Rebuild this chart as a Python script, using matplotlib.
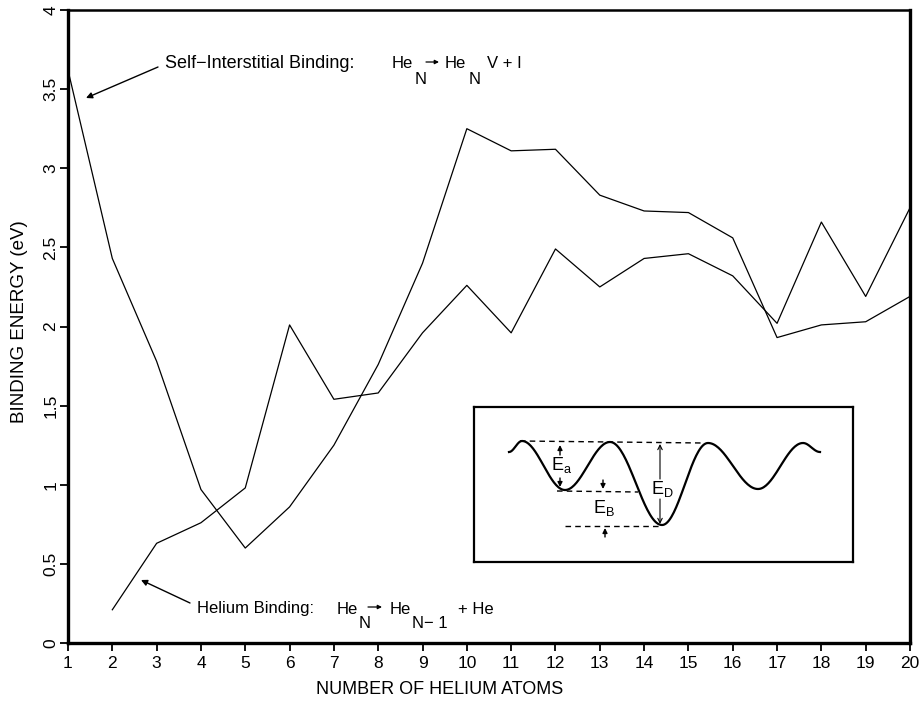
import numpy as np
import matplotlib
matplotlib.use("Agg")
import matplotlib.pyplot as plt

plt.rcParams['font.family'] = ['Liberation Sans', 'DejaVu Sans']
plt.rcParams['mathtext.default'] = 'regular'

# data
n_atoms = list(range(1, 21))
self_interstitial = [3.62, 2.43, 1.78, 0.97, 0.60, 0.86, 1.25, 1.76, 2.40, 3.25,
                     3.11, 3.12, 2.83, 2.73, 2.72, 2.56, 1.93, 2.01, 2.03, 2.19]
n_atoms_he = list(range(2, 21))
helium_binding = [0.21, 0.63, 0.76, 0.98, 2.01, 1.54, 1.58, 1.96, 2.26,
                  1.96, 2.49, 2.25, 2.43, 2.46, 2.32, 2.02, 2.66, 2.19, 2.75]
y_ticks = [0, 0.5, 1, 1.5, 2, 2.5, 3, 3.5, 4]
y_tick_labels = ['0', '0.5', '1', '1.5', '2', '2.5', '3', '3.5', '4']

# inset sketch: extrema of the potential curve (box-relative pixels)
well_x = [35, 48, 91, 136, 188, 234, 284, 329, 346]
well_y = [45, 34, 83, 35, 118, 36, 82, 36, 45]

W, H = 919, 704


def fpos(px, py):
    """pixel position -> figure fraction"""
    return px / W, 1 - py / H


def smooth(xs, ys, n=40):
    # half-cosine between successive extrema of the sketch
    out_x, out_y = [], []
    for x0, y0, x1, y1 in zip(xs[:-1], ys[:-1], xs[1:], ys[1:]):
        t = np.linspace(0, 1, n)
        out_x.extend(x0 + (x1 - x0) * t)
        out_y.extend(y0 + (y1 - y0) * (1 - np.cos(np.pi * t)) / 2)
    return out_x, out_y


def fig_arrow(start, end, scale=9, lw=1.0):
    fig.add_artist(plt.Annotation('', xy=fpos(*end), xytext=fpos(*start),
                                  xycoords='figure fraction', textcoords='figure fraction',
                                  arrowprops=dict(arrowstyle='-|>', color='black', lw=lw,
                                                  mutation_scale=scale, shrinkA=0, shrinkB=0)))


fig = plt.figure(figsize=(W / 100, H / 100), dpi=100)
ax = fig.add_axes([68 / W, 61 / H, 842 / W, 633 / H])

ax.plot(n_atoms, self_interstitial, color='black', lw=0.9)
ax.plot(n_atoms_he, helium_binding, color='black', lw=0.9)

ax.set_xlim(1, 20)
ax.set_ylim(0, 4)
ax.set_xticks(n_atoms)
ax.set_yticks(y_ticks)
ax.set_yticklabels(y_tick_labels, rotation=90, va='center')
ax.tick_params(direction='out', length=6, width=1.3, labelsize=12.5)
ax.tick_params(axis='x', pad=3)
ax.tick_params(axis='y', pad=1)
for side in ['left', 'bottom', 'right']:
    ax.spines[side].set_linewidth(2.4)
ax.spines['top'].set_linewidth(1.8)

fig.text(*fpos(440, 690), 'NUMBER OF HELIUM ATOMS', ha='center', va='center', fontsize=13)
fig.text(*fpos(20, 322), 'BINDING ENERGY (eV)', ha='center', va='center',
         rotation=90, fontsize=13.5)

# annotation: self-interstitial binding
fs = 12
fig.text(*fpos(165, 63), 'Self\u2212Interstitial Binding:', va='center', fontsize=13)
fig.text(*fpos(392, 63), 'He', va='center', fontsize=fs)
fig.text(*fpos(421, 80), 'N', ha='center', va='center', fontsize=fs)
fig_arrow((426, 62), (439, 62), scale=6, lw=0.9)
fig.text(*fpos(445, 63), 'He', va='center', fontsize=fs)
fig.text(*fpos(475, 80), 'N', ha='center', va='center', fontsize=fs)
fig.text(*fpos(487, 63), 'V + I', va='center', fontsize=fs)
fig_arrow((158, 67), (86, 98))

# annotation: helium binding
fig.text(*fpos(197, 609), 'Helium Binding:', va='center', fontsize=fs)
fig.text(*fpos(337, 609), 'He', va='center', fontsize=fs)
fig.text(*fpos(365, 623), 'N', ha='center', va='center', fontsize=fs)
fig_arrow((368, 607), (382, 607), scale=6, lw=0.9)
fig.text(*fpos(390, 609), 'He', va='center', fontsize=fs)
fig.text(*fpos(430, 623), 'N\u2212 1', ha='center', va='center', fontsize=fs)
fig.text(*fpos(458, 609), '+ He', va='center', fontsize=fs)
fig_arrow((190, 603), (141, 580))

# inset: potential energy sketch
ins = fig.add_axes([474 / W, (H - 562) / H, 379 / W, 155 / H])
ins.set_xlim(0, 379)
ins.set_ylim(155, 0)
ins.set_xticks([])
ins.set_yticks([])
for s in ins.spines.values():
    s.set_linewidth(1.6)

cx, cy = smooth(well_x, well_y)
ins.plot(cx, cy, color='black', lw=1.6)

dash = dict(color='black', lw=1, dashes=(4, 3))
ins.plot([46, 229], [34, 36], **dash)
ins.plot([83, 164], [84, 85], **dash)
ins.plot([91, 186], [119, 119], **dash)

small = dict(arrowstyle='-|>', color='black', lw=1, mutation_scale=7, shrinkA=0, shrinkB=0)
thin = dict(arrowstyle='->', color='black', lw=0.8, mutation_scale=8, shrinkA=0, shrinkB=0)
ins.annotate('', xy=(86, 38), xytext=(86, 48), arrowprops=small)
ins.annotate('', xy=(86, 80), xytext=(86, 71), arrowprops=small)
ins.annotate('', xy=(129, 82), xytext=(129, 73), arrowprops=small)
ins.annotate('', xy=(131, 121), xytext=(131, 130), arrowprops=small)
ins.annotate('', xy=(186, 37), xytext=(186, 72), arrowprops=thin)
ins.annotate('', xy=(186, 117), xytext=(186, 92), arrowprops=thin)

ins.text(88, 58, 'E$_{a}$', ha='center', va='center', fontsize=13)
ins.text(188, 82, 'E$_{D}$', ha='center', va='center', fontsize=13)
ins.text(130, 101, 'E$_{B}$', ha='center', va='center', fontsize=13)

fig.savefig('out.png', dpi=100)
